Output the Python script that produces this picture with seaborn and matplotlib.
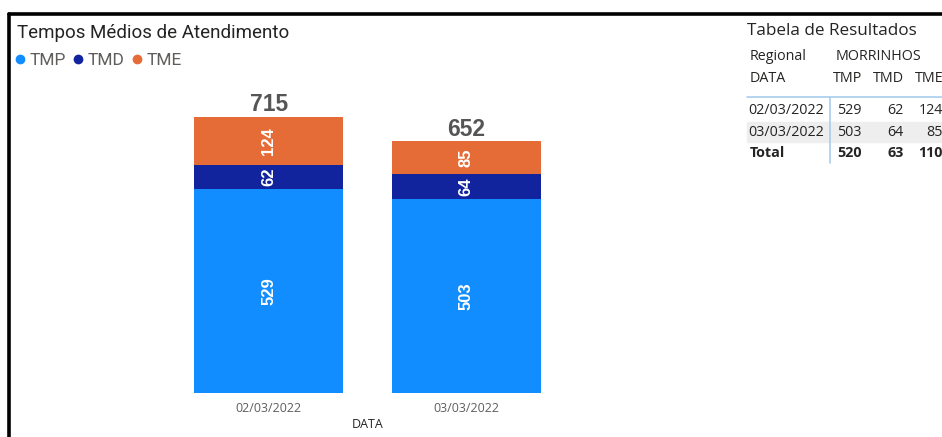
import numpy as np
import matplotlib.pyplot as plt
import seaborn as sns
from matplotlib.lines import Line2D
from matplotlib.patches import Rectangle

# ---- dados ----
datas = ['02/03/2022', '03/03/2022']
tmp = [529, 503]
tmd = [62, 64]
tme = [124, 85]
totais_tabela = [520, 63, 110]
regional = 'MORRINHOS'

cores = {'TMP': '#118DFF', 'TMD': '#12239E', 'TME': '#E66C37'}

W, H = 942, 437


def px(x, y):
    """pixel (origem no canto superior esquerdo) -> fração da figura"""
    return x / W, 1 - y / H


sns.set_style('white')
plt.rcParams['font.family'] = ['Open Sans', 'DejaVu Sans']

fig = plt.figure(figsize=(W / 100, H / 100), dpi=100)

# eixo do gráfico: x 170..565, y 95..393 (pixels)
l, b = px(170, 393)
r, t = px(565, 95)
ax = fig.add_axes([l, b, r - l, t - b])

tmp_a = np.array(tmp)
tmd_a = np.array(tmd)
tme_a = np.array(tme)
acum_tmd = tmp_a + tmd_a
total = acum_tmd + tme_a

# barras empilhadas: desenha do total para a base
bar_kw = dict(saturation=1, width=0.755, linewidth=0, ax=ax)
sns.barplot(x=datas, y=total, color=cores['TME'], **bar_kw)
sns.barplot(x=datas, y=acum_tmd, color=cores['TMD'], **bar_kw)
sns.barplot(x=datas, y=tmp_a, color=cores['TMP'], **bar_kw)

ax.set_xlim(-0.5, 1.5)
ax.set_ylim(0, 772)
sns.despine(ax=ax, left=True, bottom=True)
ax.set_yticks([])
ax.tick_params(axis='x', length=0, pad=6.5, labelsize=9, labelcolor='#605E5C')
ax.set_xlabel('DATA', fontsize=9, color='#252423', labelpad=2)

# rótulos dos segmentos
lab_kw = dict(rotation=90, ha='center', va='center', color='white',
              fontsize=12, fontweight='bold', family=['Liberation Sans', 'DejaVu Sans'])
for i in range(len(datas)):
    ax.text(i, tmp_a[i] / 2, str(tmp_a[i]), **lab_kw)
    ax.text(i, tmp_a[i] + tmd_a[i] / 2, str(tmd_a[i]), **lab_kw)
    ax.text(i, acum_tmd[i] + tme_a[i] / 2, str(tme_a[i]), **lab_kw)
    ax.text(i, total[i] + 2, str(total[i]), ha='center', va='bottom', color='#555555',
            fontsize=16.5, fontweight='bold', family=['Liberation Sans', 'DejaVu Sans'])

# título e legenda
fig.text(*px(17, 33), 'Tempos Médios de Atendimento', fontsize=13.5, color='#252423',
         va='center', ha='left', family=['Roboto', 'DejaVu Sans'])
handles = [Line2D([], [], marker='o', linestyle='', markersize=6, color=cores[k]) for k in cores]
fig.legend(handles, list(cores), loc='upper left', bbox_to_anchor=px(16, 53), frameon=False,
           ncol=3, handlelength=0.5, handletextpad=0.3, columnspacing=0.45, borderaxespad=0,
           borderpad=0, labelcolor='#605E5C',
           prop={'family': ['Roboto', 'DejaVu Sans'], 'size': 12.5})

# tabela de resultados
fig.text(*px(747, 31), 'Tabela de Resultados', fontsize=12.3, color='#252423', va='center')
fig.patches.append(Rectangle(px(747, 142), (W - 747) / W, 20 / H, transform=fig.transFigure,
                             color='#EEEEEE', zorder=0))
fig.add_artist(Line2D([747 / W, 1], [1 - 97 / H] * 2, color='#A8CDEF', lw=1.2))
fig.add_artist(Line2D([830 / W] * 2, [1 - 97 / H, 1 - 163 / H], color='#A8CDEF', lw=1.2))

tab_kw = dict(fontsize=10.3, color='#252423', va='center')
fig.text(*px(750, 57), 'Regional', **tab_kw)
fig.text(*px(836, 57), regional, **tab_kw)
fig.text(*px(750, 78), 'DATA', **tab_kw)
col_dir = [862, 904, 943]
for xr, nome in zip(col_dir, cores):
    fig.text(*px(xr, 78), nome, ha='right', **tab_kw)

linhas_y = [110, 132]
for i, yy in enumerate(linhas_y):
    fig.text(*px(748, yy), datas[i], **tab_kw)
    for xr, v in zip(col_dir, [tmp[i], tmd[i], tme[i]]):
        fig.text(*px(xr, yy), str(v), ha='right', **tab_kw)
fig.text(*px(750, 153), 'Total', fontweight='bold', **tab_kw)
for xr, v in zip(col_dir, totais_tabela):
    fig.text(*px(xr, 153), str(v), ha='right', fontweight='bold', **tab_kw)

# moldura preta
fig.add_artist(Line2D([9 / W, 1], [1 - 14 / H] * 2, color='black', lw=2.6))
fig.add_artist(Line2D([9 / W] * 2, [1 - 14 / H, 0], color='black', lw=2.6))

fig.savefig('out.png', dpi=100, facecolor='white')
